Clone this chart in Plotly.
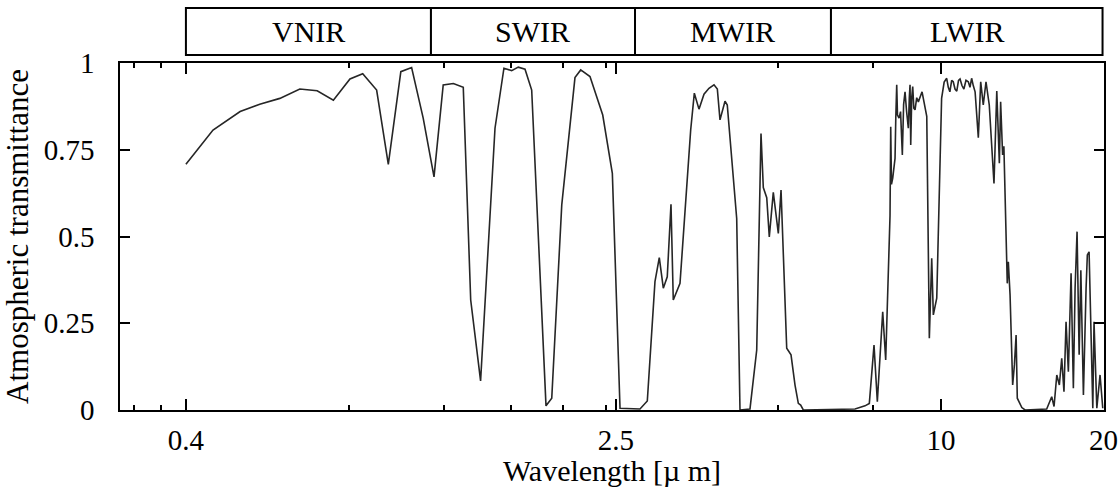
import numpy as np
import plotly.graph_objects as go

# ---- data ----
wavelength_um = [
    0.40, 0.449, 0.504, 0.548, 0.597, 0.650, 0.700, 0.750, 0.805, 0.850,
    0.902, 0.948, 1.00, 1.047, 1.100, 1.152, 1.198, 1.251, 1.305, 1.347,
    1.405, 1.494, 1.552, 1.604, 1.650, 1.698, 1.747, 1.857, 1.903, 1.986,
    2.101, 2.153, 2.240, 2.365, 2.464, 2.546, 2.772, 2.860, 2.955, 3.010,
    3.062, 3.114, 3.164, 3.195, 3.288, 3.441, 3.495, 3.565, 3.642, 3.720,
    3.801, 3.855, 3.899, 3.983, 4.022, 4.069, 4.187, 4.246, 4.431, 4.560,
    4.644, 4.690, 4.759, 4.811, 4.894, 5.000, 5.058, 5.182, 5.278, 5.369,
    5.445, 5.500, 5.562, 6.934, 7.236, 7.370, 7.519, 7.626, 7.803, 7.903,
    8.026, 8.050, 8.074, 8.100, 8.143, 8.180, 8.224, 8.250, 8.283, 8.310,
    8.366, 8.420, 8.484, 8.530, 8.582, 8.640, 8.704, 8.740, 8.767, 8.793,
    8.830, 8.868, 8.910, 8.956, 9.020, 9.083, 9.150, 9.228, 9.415, 9.519,
    9.616, 9.683, 9.824, 10.03, 10.14, 10.25, 10.32, 10.39, 10.47, 10.54,
    10.62, 10.70, 10.78, 10.85, 10.94, 11.03, 11.13, 11.24, 11.32, 11.40,
    11.48, 11.57, 11.73, 11.85, 11.98, 12.12, 12.29, 12.54, 12.69, 12.76,
    12.83, 12.90, 12.95, 13.01, 13.08, 13.15, 13.27, 13.33, 13.43, 13.58,
    13.68, 13.78, 13.85, 14.12, 14.32, 15.70, 16.04, 16.20, 16.39, 16.57,
    16.74, 16.90, 17.05, 17.22, 17.42, 17.59, 17.72, 17.87, 18.03, 18.16,
    18.36, 18.57, 18.67, 18.81, 18.95, 19.11, 19.21, 19.44, 19.71, 19.94,
]
transmittance = [
    0.708, 0.807, 0.860, 0.881, 0.898, 0.925, 0.920, 0.893, 0.954, 0.969,
    0.922, 0.708, 0.975, 0.987, 0.841, 0.672, 0.937, 0.941, 0.930, 0.317,
    0.084, 0.812, 0.985, 0.978, 0.988, 0.982, 0.922, 0.012, 0.034, 0.591,
    0.958, 0.980, 0.961, 0.850, 0.682, 0.005, 0.003, 0.026, 0.370, 0.439,
    0.351, 0.384, 0.593, 0.317, 0.365, 0.807, 0.913, 0.867, 0.910, 0.927,
    0.937, 0.925, 0.836, 0.890, 0.879, 0.788, 0.552, 0.000, 0.003, 0.173,
    0.797, 0.641, 0.612, 0.499, 0.627, 0.509, 0.634, 0.178, 0.159, 0.072,
    0.019, 0.014, 0.000, 0.003, 0.012, 0.019, 0.187, 0.024, 0.283, 0.144,
    0.533, 0.560, 0.816, 0.650, 0.668, 0.700, 0.725, 0.840, 0.937, 0.850,
    0.841, 0.860, 0.735, 0.880, 0.917, 0.860, 0.812, 0.900, 0.937, 0.764,
    0.900, 0.932, 0.870, 0.865, 0.900, 0.888, 0.900, 0.917, 0.846, 0.207,
    0.437, 0.274, 0.322, 0.898, 0.945, 0.956, 0.930, 0.917, 0.950, 0.946,
    0.925, 0.919, 0.950, 0.954, 0.935, 0.925, 0.950, 0.946, 0.930, 0.956,
    0.935, 0.917, 0.785, 0.946, 0.879, 0.946, 0.879, 0.653, 0.919, 0.820,
    0.711, 0.888, 0.800, 0.735, 0.760, 0.620, 0.365, 0.427, 0.331, 0.072,
    0.130, 0.216, 0.034, 0.007, 0.000, 0.003, 0.038, 0.010, 0.101, 0.072,
    0.149, 0.053, 0.254, 0.110, 0.394, 0.063, 0.351, 0.514, 0.159, 0.403,
    0.043, 0.351, 0.447, 0.456, 0.254, 0.005, 0.254, 0.005, 0.101, 0.005,
]

band_names = ["VNIR", "SWIR", "MWIR", "LWIR"]
band_edges_um = [0.40, 1.137, 2.714, 6.258, 19.92]

x_major_ticks = [0.4, 2.5, 10, 20]
x_major_labels = ["0.4", "2.5", "10", "20"]
x_minor_ticks = [0.32, 0.36, 0.8, 1.2, 1.6, 2.0, 2.4, 5, 7.5]
y_ticks = [0, 0.25, 0.5, 0.75, 1]
y_labels = ["0", "0.25", "0.5", "0.75", "1"]

FONT = "Liberation Serif"

fig = go.Figure()
fig.add_trace(go.Scatter(
    x=wavelength_um, y=transmittance, mode="lines",
    line=dict(color="#262626", width=1.6), showlegend=False,
))

# band boxes above the plot
for i, name in enumerate(band_names):
    a, b = band_edges_um[i], band_edges_um[i + 1]
    fig.add_shape(type="rect", xref="x", yref="paper",
                  x0=a, x1=b, y0=1.023, y1=1.1585,
                  line=dict(color="black", width=2), fillcolor="white")
    fig.add_annotation(xref="x", yref="paper",
                       x=(np.log10(a) + np.log10(b)) / 2, y=1.091,
                       xanchor="center", yanchor="middle",
                       text=name, showarrow=False,
                       font=dict(family=FONT, size=30, color="black"))

fig.update_xaxes(
    type="log", range=[-0.520, 1.302], automargin=False,
    tickmode="array", tickvals=x_major_ticks, ticktext=x_major_labels,
    ticks="inside", ticklen=11, tickwidth=1.5, tickcolor="black",
    minor=dict(tickmode="array", tickvals=x_minor_ticks, ticks="inside",
               ticklen=5, tickwidth=1.5, tickcolor="black", showgrid=False),
    showline=True, linecolor="black", linewidth=1.5, mirror="allticks",
    showgrid=False, zeroline=False,
    tickfont=dict(family=FONT, size=29, color="black"),
    ticklabelstandoff=3,
    title=dict(text="Wavelength [µ m]", font=dict(family=FONT, size=30, color="black"), standoff=3),
)
fig.update_yaxes(
    range=[0, 1], automargin=False,
    tickmode="array", tickvals=y_ticks, ticktext=y_labels,
    ticks="inside", ticklen=10, tickwidth=1.5, tickcolor="black",
    showline=True, linecolor="black", linewidth=1.5, mirror="allticks",
    showgrid=False, zeroline=False,
    tickfont=dict(family=FONT, size=29, color="black"),
    ticklabelstandoff=18,
    title=dict(text="Atmospheric transmittance", font=dict(family=FONT, size=31, color="black"), standoff=6),
)

fig.update_layout(
    width=1120, height=487,
    margin=dict(l=120, r=16, t=63, b=77),
    paper_bgcolor="white", plot_bgcolor="white",
    font=dict(family=FONT, color="black"),
)

fig.write_html("out.html")
